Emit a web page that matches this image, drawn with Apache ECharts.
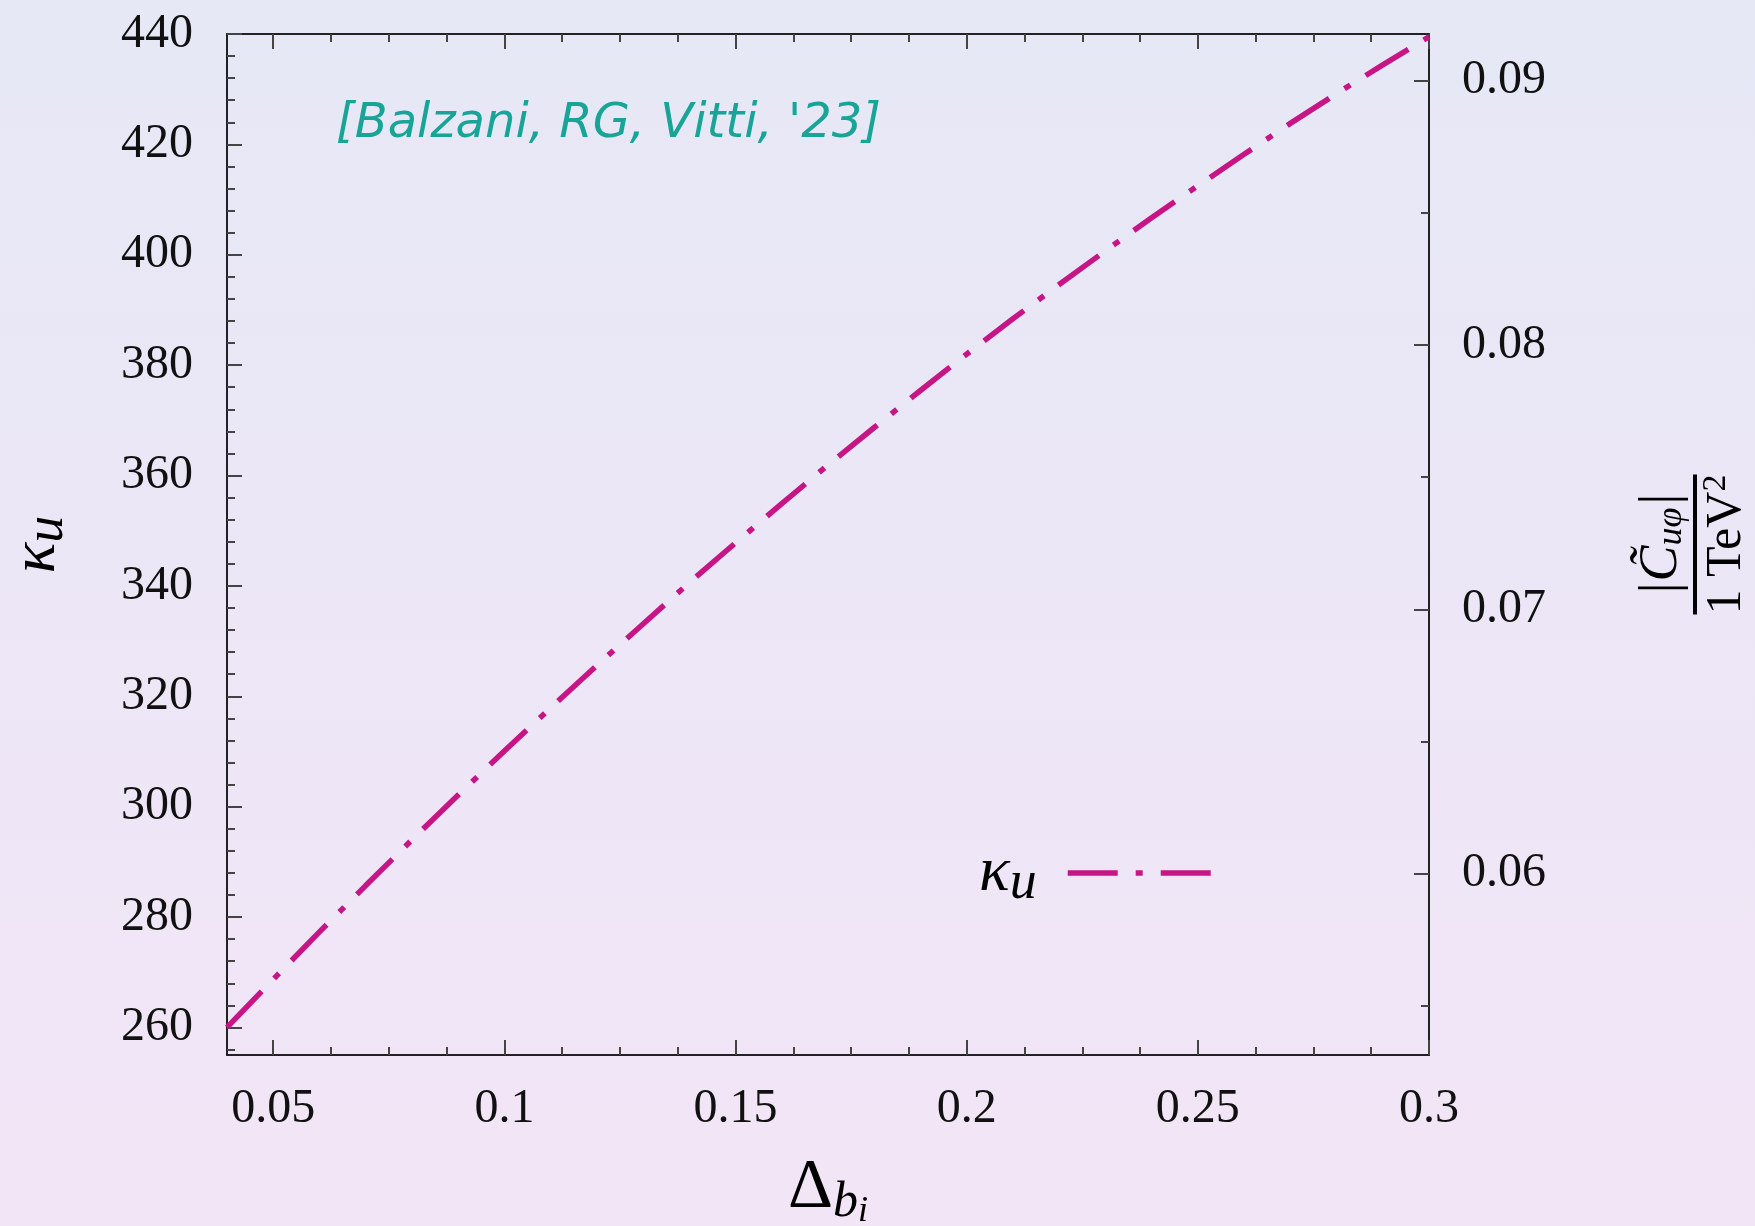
<!DOCTYPE html>
<html>
<head>
<meta charset="utf-8">
<title>kappa_u vs Delta_bi</title>
<style>
html, body { margin: 0; padding: 0; }
#main { width: 1755px; height: 1226px; }
</style>
<script src="https://cdn.jsdelivr.net/npm/echarts@6/dist/echarts.min.js"></script>
</head>
<body>
<div id="main"></div>
<script>
// curve
var deltaB = [0.04, 0.05, 0.06, 0.07, 0.08, 0.09, 0.10, 0.11, 0.12, 0.13, 0.14, 0.15, 0.16, 0.17,
	0.18, 0.19, 0.20, 0.21, 0.22, 0.23, 0.24, 0.25, 0.26, 0.27, 0.28, 0.29, 0.30];
var kappaU = [260.0, 268.7, 277.3, 285.7, 294.0, 302.1, 310.1, 317.9, 325.6, 333.1, 340.6, 347.8, 354.9, 361.9,
	368.7, 375.4, 382.0, 388.4, 394.6, 400.7, 406.7, 412.5, 418.2, 423.8, 429.2, 434.4, 439.5];

// ticks
var xTicks = [0.05, 0.1, 0.15, 0.2, 0.25, 0.3];
var xMinorTicks = [0.0625, 0.075, 0.0875, 0.1125, 0.125, 0.1375, 0.1625, 0.175, 0.1875,
	0.2125, 0.225, 0.2375, 0.2625, 0.275, 0.2875];
var kTicks = [260, 280, 300, 320, 340, 360, 380, 400, 420, 440];
var kMinorTicks = [256, 264, 268, 272, 276, 284, 288, 292, 296, 304, 308, 312, 316, 324, 328, 332, 336,
	344, 348, 352, 356, 364, 368, 372, 376, 384, 388, 392, 396, 404, 408, 412, 416, 424, 428, 432, 436];
var cTicks = [0.06, 0.07, 0.08, 0.09];
var cMinorTicks = [0.055, 0.065, 0.075, 0.085];

var curveColor = '#c71585';
var dashDot = [50, 18, 7, 18];
var serif = 'Liberation Serif';
var axisColor = '#222';

function numLabel(v) {
	return String(+(+v).toFixed(4));
}

// value axis that only draws ticks (minor ticks and the mirrored border)
function tickAxis(pos, min, max, vals, len, showLine) {
	return {
		type: 'value', position: pos, min: min, max: max,
		axisLine: { show: !!showLine, onZero: false, lineStyle: { color: axisColor, width: 2 } },
		axisTick: { show: true, inside: true, length: len, customValues: vals, lineStyle: { color: '#444', width: 2 } },
		axisLabel: { show: false },
		splitLine: { show: false }
	};
}

var myChart = echarts.init(document.getElementById('main'));

var option = {
	backgroundColor: new echarts.graphic.LinearGradient(0, 0, 0, 1, [
		{ offset: 0, color: '#e6e8f6' },
		{ offset: 1, color: '#f2e5f6' }
	]),
	animation: false,
	title: {
		text: "[Balzani, RG, Vitti, '23]",
		left: 336,
		top: 101,
		padding: 0,
		textStyle: {
			fontFamily: 'DejaVu Sans',
			fontStyle: 'italic',
			fontWeight: 'normal',
			fontSize: 48,
			color: '#18a597'
		}
	},
	legend: {
		left: 974,
		top: 836,
		align: 'right',
		selectedMode: false,
		itemWidth: 146,
		itemHeight: 20,
		lineStyle: { width: 5.5, type: dashDot, cap: 'butt', color: curveColor },
		itemStyle: { opacity: 0 },
		formatter: function () { return '{k|κ}{u|u}{gap| }'; },
		textStyle: {
			rich: {
				k: { fontFamily: serif, fontStyle: 'italic', fontSize: 64, color: '#000' },
				u: { fontFamily: serif, fontStyle: 'italic', fontSize: 54, color: '#000', padding: [22, 0, 0, 0] },
				gap: { width: 26 }
			}
		},
		data: ['kappa']
	},
	grid: { left: 227, top: 34, width: 1202, height: 1021, containLabel: false, outerBoundsMode: 'none' },
	xAxis: [
		{
			type: 'value', position: 'bottom', min: 0.04, max: 0.3,
			name: '{d|Δ}{b|b}{i|i}',
			nameLocation: 'middle',
			nameGap: 93,
			nameTextStyle: {
				rich: {
					d: { fontFamily: serif, fontSize: 70, color: '#000' },
					b: { fontFamily: serif, fontStyle: 'italic', fontSize: 50, color: '#000', padding: [28, 0, 0, 0] },
					i: { fontFamily: serif, fontStyle: 'italic', fontSize: 36, color: '#000', padding: [46, 0, 0, 0] }
				}
			},
			axisLine: { show: true, onZero: false, lineStyle: { color: axisColor, width: 2 } },
			axisTick: { show: true, inside: true, length: 15, customValues: xTicks, lineStyle: { color: '#444', width: 2 } },
			axisLabel: {
				customValues: xTicks, margin: 30, formatter: numLabel,
				fontFamily: serif, fontSize: 48, color: '#111'
			},
			splitLine: { show: false }
		},
		tickAxis('bottom', 0.04, 0.3, xMinorTicks, 8, false),
		tickAxis('top', 0.04, 0.3, xTicks, 15, true),
		tickAxis('top', 0.04, 0.3, xMinorTicks, 8, false)
	],
	yAxis: [
		{
			type: 'value', position: 'left', min: 255, max: 440,
			name: '{k|κ}{u|u}',
			nameLocation: 'middle',
			nameRotate: 90,
			nameGap: 152,
			nameTextStyle: {
				rich: {
					k: { fontFamily: serif, fontStyle: 'italic', fontSize: 64, color: '#000' },
					u: { fontFamily: serif, fontStyle: 'italic', fontSize: 54, color: '#000', padding: [22, 0, 0, 0] }
				}
			},
			axisLine: { show: true, onZero: false, lineStyle: { color: axisColor, width: 2 } },
			axisTick: { show: true, inside: true, length: 15, customValues: kTicks, lineStyle: { color: '#444', width: 2 } },
			axisLabel: {
				customValues: kTicks, margin: 34,
				fontFamily: serif, fontSize: 48, color: '#111'
			},
			splitLine: { show: false }
		},
		tickAxis('left', 255, 440, kMinorTicks, 8, false),
		{
			type: 'value', position: 'right', min: 0.05314, max: 0.09177,
			name: '{n||C\u0303}{s|uφ}{n||}\n{bar| }\n{d|1 TeV}{p|2}',
			nameLocation: 'middle',
			nameRotate: 90,
			nameGap: 204,
			nameTextStyle: {
				align: 'center',
				rich: {
					n: { fontFamily: serif, fontStyle: 'italic', fontSize: 54, color: '#000', lineHeight: 58 },
					s: { fontFamily: serif, fontStyle: 'italic', fontSize: 36, color: '#000', padding: [20, 0, 0, 0] },
					bar: { width: 140, height: 4, backgroundColor: '#000', lineHeight: 8 },
					d: { fontFamily: serif, fontSize: 50, color: '#000', lineHeight: 56 },
					p: { fontFamily: serif, fontSize: 34, color: '#000', padding: [0, 0, 22, 0] }
				}
			},
			axisLine: { show: true, onZero: false, lineStyle: { color: axisColor, width: 2 } },
			axisTick: { show: true, inside: true, length: 15, customValues: cTicks, lineStyle: { color: '#444', width: 2 } },
			axisLabel: {
				customValues: cTicks, margin: 33, formatter: numLabel,
				fontFamily: serif, fontSize: 48, color: '#111'
			},
			splitLine: { show: false }
		},
		tickAxis('right', 0.05314, 0.09177, cMinorTicks, 8, false)
	],
	series: [{
		name: 'kappa',
		type: 'line',
		xAxisIndex: 0,
		yAxisIndex: 0,
		symbol: 'none',
		data: deltaB.map(function (d, i) { return [d, kappaU[i]]; }),
		lineStyle: { color: curveColor, width: 5.5, type: dashDot, cap: 'butt' },
		itemStyle: { color: curveColor }
	}]
};

myChart.setOption(option);
</script>
</body>
</html>
